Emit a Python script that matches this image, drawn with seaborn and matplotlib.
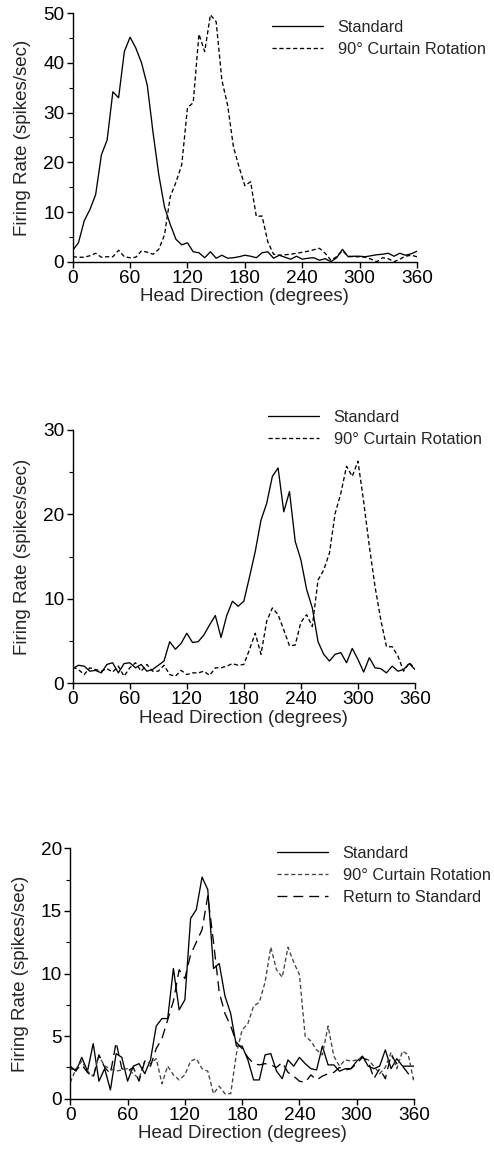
import numpy as np
import pandas as pd
import matplotlib
matplotlib.use("Agg")
import matplotlib.pyplot as plt
import seaborn as sns

# ---------------- data ----------------
head_direction = list(range(0, 361, 6))

p1_standard = [2.3, 3.8, 8.2, 10.5, 13.5, 21.5, 24.5, 34.2, 33.0, 42.3, 45.2, 43.0, 40.0, 35.5,
               26.0, 17.5, 11.0, 7.5, 4.5, 3.4, 3.8, 2.0, 1.8, 0.8, 2.0, 0.7, 1.3, 0.7, 0.8, 1.0,
               1.3, 1.1, 0.8, 1.8, 2.0, 0.7, 1.3, 0.9, 0.5, 1.1, 0.5, 0.7, 0.8, 0.3, 0.6, 0.0,
               0.8, 2.5, 1.0, 1.1, 1.1, 1.0, 1.2, 1.4, 1.5, 1.7, 1.1, 1.7, 1.3, 1.6, 2.1]
p1_rotation = [1.0, 0.9, 0.9, 1.2, 1.7, 0.9, 1.0, 1.0, 2.3, 1.0, 0.8, 0.9, 2.2, 1.9, 1.5, 2.5,
               5.4, 13.1, 16.0, 19.5, 31.0, 32.0, 45.8, 42.3, 49.7, 48.3, 36.5, 31.5, 23.2, 19.0,
               15.3, 16.1, 9.1, 9.2, 4.0, 1.5, 1.3, 1.4, 1.5, 1.7, 1.9, 2.1, 2.4, 2.7, 1.7, 0.3,
               1.0, 2.2, 1.1, 1.0, 1.0, 0.9, 0.5, 0.0, 0.8, 0.6, 0.0, 0.5, 1.1, 1.3, 1.0]

p2_standard = [1.7, 2.1, 2.0, 1.4, 1.5, 1.2, 2.2, 2.4, 1.2, 2.3, 2.4, 1.8, 2.2, 1.4, 1.6, 2.1,
               2.6, 4.9, 4.0, 4.7, 5.9, 4.8, 4.9, 5.7, 6.9, 8.0, 5.4, 8.0, 9.7, 9.1, 9.7, 12.6,
               15.6, 19.3, 21.3, 24.5, 25.5, 20.3, 22.7, 16.8, 14.6, 11.1, 8.9, 4.9, 3.4, 2.6,
               3.4, 3.6, 2.4, 4.1, 2.8, 1.3, 3.0, 1.8, 1.7, 1.2, 2.0, 1.4, 1.6, 2.3, 1.6]
p2_rotation = [1.9, 1.6, 1.0, 1.8, 1.6, 1.4, 1.7, 1.3, 2.0, 0.8, 1.8, 2.4, 1.4, 2.2, 1.4, 1.4,
               2.1, 1.0, 0.8, 1.5, 1.0, 1.2, 1.2, 1.4, 0.9, 1.8, 1.8, 2.0, 2.3, 2.1, 2.2, 4.0,
               5.9, 3.4, 7.3, 8.9, 8.1, 6.3, 4.4, 4.5, 7.2, 8.1, 6.7, 12.2, 13.4, 15.4, 20.1,
               22.5, 25.7, 24.5, 26.3, 21.5, 16.2, 11.4, 7.5, 4.3, 4.3, 3.2, 1.4, 2.4, 1.7]

p3_standard = [2.6, 2.2, 3.3, 2.2, 4.4, 1.4, 2.4, 0.7, 3.6, 3.3, 1.4, 2.6, 2.8, 2.0, 3.1, 5.8,
               6.4, 6.4, 10.4, 7.1, 7.9, 14.4, 15.1, 17.7, 16.7, 10.4, 10.8, 8.2, 6.8, 4.2, 4.2,
               3.1, 1.5, 1.5, 3.5, 3.6, 2.2, 1.6, 3.1, 2.6, 3.3, 2.8, 2.4, 2.3, 4.2, 2.7, 2.7,
               2.2, 2.4, 2.4, 3.0, 3.4, 2.6, 2.4, 2.6, 3.9, 2.4, 3.2, 2.6, 2.6, 2.6]
p3_rotation = [1.3, 2.4, 3.0, 2.2, 1.8, 3.4, 2.6, 2.4, 2.2, 2.3, 2.4, 2.0, 1.6, 3.0, 2.8, 3.2,
               1.2, 2.6, 1.9, 1.5, 1.9, 3.0, 3.2, 2.4, 2.2, 0.4, 1.0, 0.4, 0.4, 3.6, 5.5, 6.0,
               7.4, 7.7, 9.3, 12.1, 10.3, 9.7, 12.1, 10.9, 9.9, 5.0, 4.6, 3.9, 3.5, 5.8, 3.4,
               2.6, 3.1, 3.0, 3.1, 3.3, 3.1, 2.6, 2.0, 2.5, 3.7, 2.4, 3.8, 3.5, 1.3]
p3_return = [2.4, 2.3, 2.7, 2.1, 1.7, 3.5, 2.5, 2.0, 4.5, 2.4, 2.2, 2.5, 1.4, 3.0, 2.6, 4.0,
             4.8, 6.3, 7.8, 10.3, 9.6, 11.5, 12.5, 13.5, 16.2, 12.5, 8.5, 6.8, 5.8, 4.5, 4.0,
             3.3, 2.8, 2.7, 2.8, 2.7, 2.5, 2.9, 2.1, 1.8, 1.4, 1.3, 1.9, 1.5, 1.8, 2.0, 2.1,
             2.5, 2.3, 2.4, 2.8, 3.3, 3.0, 1.6, 2.4, 1.6, 3.5, 2.8, 2.6, 2.0, 1.6]

x_ticks = [0, 60, 120, 180, 240, 300, 360]
label_standard = "Standard"
label_rotation = "90° Curtain Rotation"
label_return = "Return to Standard"

# ---------------- style ----------------
sns.set_style("ticks")
plt.rcParams['font.family'] = ['Liberation Sans', 'DejaVu Sans']
plt.rcParams['axes.linewidth'] = 1.0

fig = plt.figure(figsize=(4.94, 11.49), dpi=100)

W, H = 494.0, 1149.0
def axes_px(left, right, top, bottom):
    return fig.add_axes([left / W, 1 - bottom / H, (right - left) / W, (bottom - top) / H])

ax1 = axes_px(72.7, 417, 13.3, 261.7)
ax2 = axes_px(72.7, 415, 430, 683)
ax3 = axes_px(70.3, 414, 848.3, 1098.7)

solid = '-'
short_dash = (0, (3.2, 2.0))
long_dash = (0, (7.5, 4.5))

def panel(ax, series, ymax, ymajor, yminor, legend_xy):
    for vals, lab, ls, col in series:
        df = pd.DataFrame({"x": head_direction, "y": vals})
        sns.lineplot(data=df, x="x", y="y", ax=ax, color=col, linewidth=0.95,
                     linestyle=ls, label=lab)
    ax.set_xlim(0, 360)
    ax.set_ylim(0, ymax)
    ax.set_xticks(x_ticks)
    ax.set_yticks(np.arange(0, ymax + 0.01, ymajor))
    ax.set_yticks(np.arange(0, ymax + 0.01, yminor), minor=True)
    ax.set_yticklabels([f"{v:g}" for v in np.arange(0, ymax + 0.01, ymajor)])
    ax.tick_params(axis='both', which='major', length=4, width=1, labelsize=13.7,
                   pad=2, color='black', labelcolor='black')
    ax.tick_params(axis='y', which='minor', length=3, width=0.8, color='black')
    ax.set_xlabel("Head Direction (degrees)", fontsize=13.5, labelpad=1)
    ax.set_ylabel("Firing Rate (spikes/sec)", fontsize=13.5, labelpad=8.5)
    for s in ['top', 'right']:
        ax.spines[s].set_visible(False)
    for s in ['left', 'bottom']:
        ax.spines[s].set_color('black')
    ax.set_facecolor('white')
    ax.legend(loc='upper left', bbox_to_anchor=(legend_xy[0] / W, 1 - legend_xy[1] / H),
              bbox_transform=fig.transFigure, frameon=False, borderpad=0,
              borderaxespad=0, fontsize=11.8, handlelength=3.1, handletextpad=0.9,
              labelspacing=0.43)

panel(ax1, [(p1_standard, label_standard, solid, 'black'),
            (p1_rotation, label_rotation, short_dash, 'black')],
      50, 10, 5, (272, 20))
panel(ax2, [(p2_standard, label_standard, solid, 'black'),
            (p2_rotation, label_rotation, short_dash, 'black')],
      30, 10, 5, (268, 410))
panel(ax3, [(p3_standard, label_standard, solid, 'black'),
            (p3_rotation, label_rotation, short_dash, '#444444'),
            (p3_return, label_return, long_dash, 'black')],
      20, 5, 2.5, (277, 846))

fig.savefig("out.png", dpi=100, facecolor='white')
